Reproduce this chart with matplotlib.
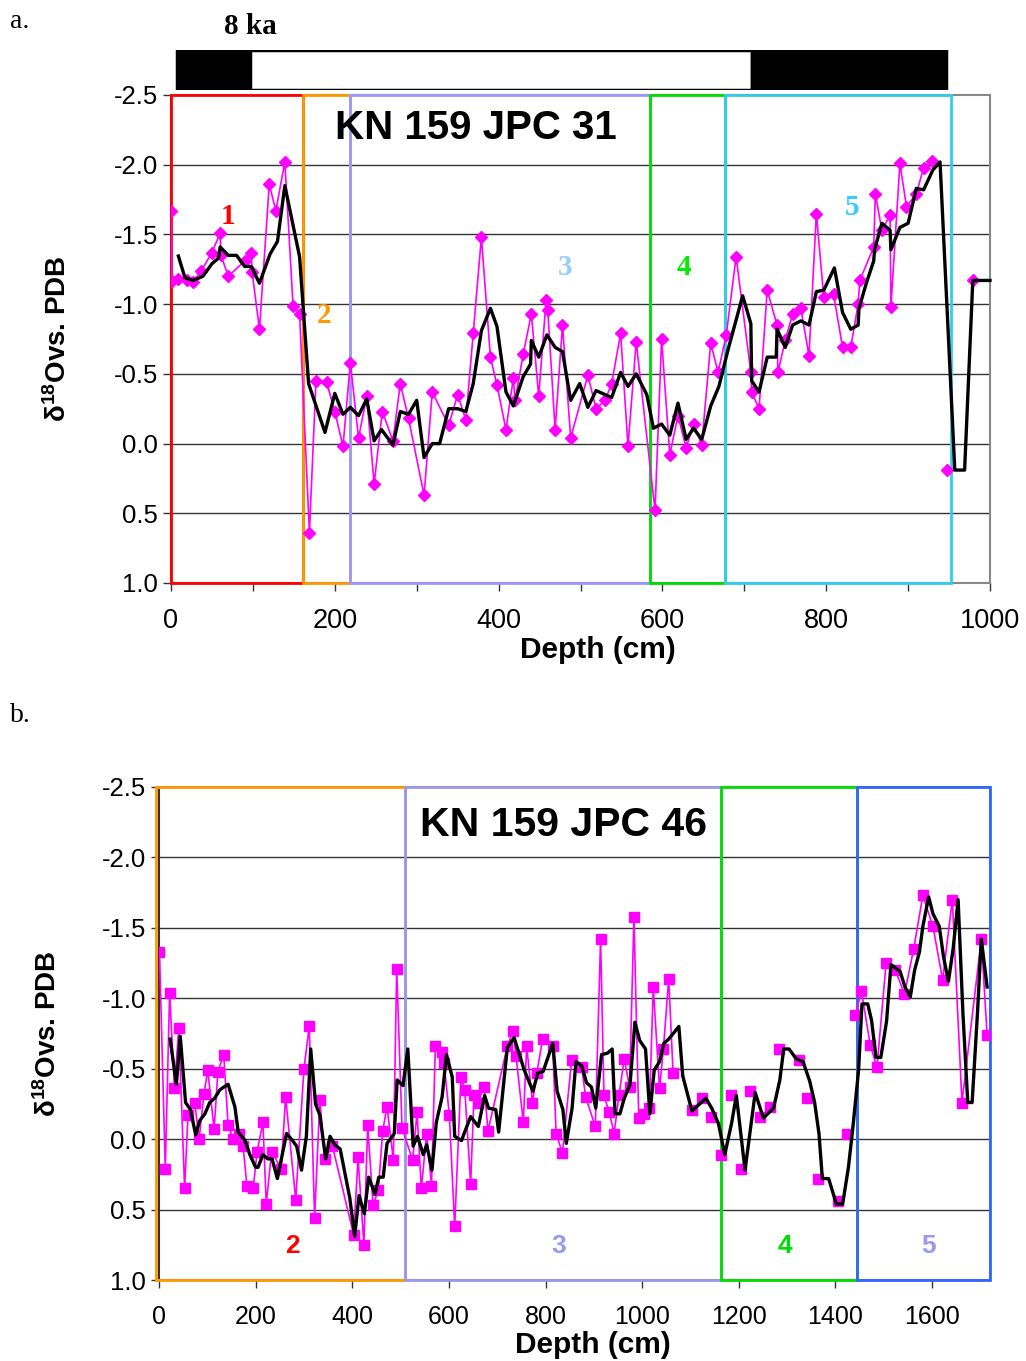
import numpy as np
import matplotlib
matplotlib.use("Agg")
import matplotlib.pyplot as plt
from matplotlib.patches import Rectangle

plt.rcParams['font.family'] = ['Liberation Sans', 'DejaVu Sans']

# -----------------------------
# Data: KN 159 JPC 31 (panel a)
# -----------------------------
a_depth = [0, 1, 9, 19, 27, 37, 50, 60, 61, 70, 90, 98, 99, 108, 120, 128, 139, 149, 157, 169,
           177, 190, 200, 210, 219, 229, 239, 248, 258, 271, 280, 290, 309, 319, 339, 350, 360,
           369, 379, 390, 398, 409, 418, 420, 430, 440, 449, 458, 460, 469, 478, 488, 509, 519,
           530, 538, 549, 558, 568, 591, 599, 609, 619, 629, 638, 648, 659, 668, 678, 690, 708,
           709, 718, 728, 740, 741, 750, 759, 769, 779, 788, 797, 809, 820, 830, 839, 841, 858,
           860, 868, 878, 879, 890, 898, 910, 919, 929]
a_d18o = [-1.67, -1.165, -1.18, -1.17, -1.16, -1.24, -1.37, -1.51, -1.35, -1.2, -1.31, -1.37, -1.23,
          -0.82, -1.86, -1.67, -2.02, -0.99, -0.93, 0.64, -0.45, -0.44, -0.23, 0.02, -0.58, -0.04,
          -0.34, 0.29, -0.23, -0.02, -0.43, -0.18, 0.37, -0.37, -0.13, -0.35, -0.17, -0.79, -1.48,
          -0.62, -0.42, -0.1, -0.47, -0.31, -0.64, -0.93, -0.34, -1.03, -0.96, -0.1, -0.85, -0.04,
          -0.49, -0.25, -0.31, -0.43, -0.79, 0.02, -0.73, 0.48, -0.75, 0.08, -0.2, 0.03, -0.14,
          0.01, -0.72, -0.51, -0.78, -1.34, -0.51, -0.37, -0.25, -1.1, -0.85, -0.51, -0.74, -0.93,
          -0.97, -0.63, -1.65, -1.05, -1.07, -0.69, -0.69, -1.0, -1.17, -1.41, -1.79, -1.53, -1.64,
          -0.98, -2.01, -1.7, -1.79, -1.98, -2.03]
# isolated samples below the gap
a_iso_depth = [947, 979]
a_iso_d18o = [0.19, -1.17]

a_smooth_depth = [9, 17, 27, 39, 50, 58, 60, 70, 80, 90, 98, 108, 121, 130, 139, 157, 168, 188, 200,
                  210, 219, 229, 239, 248, 257, 271, 280, 290, 300, 309, 319, 328, 339, 350, 360,
                  369, 379, 390, 398, 409, 418, 430, 439, 440, 449, 459, 469, 478, 488, 499, 509,
                  519, 538, 549, 558, 568, 581, 589, 599, 609, 619, 629, 638, 648, 659, 669, 680,
                  698, 708, 709, 718, 728, 739, 740, 750, 759, 769, 779, 788, 797, 810, 820, 830,
                  839, 840, 849, 858, 859, 868, 878, 879, 890, 900, 910, 919, 930, 939, 957, 969,
                  979, 1000]
a_smooth = [-1.345, -1.19, -1.17, -1.2, -1.29, -1.33, -1.41, -1.35, -1.35, -1.27, -1.27, -1.15, -1.36,
            -1.45, -1.85, -1.34, -0.43, -0.08, -0.36, -0.21, -0.26, -0.2, -0.32, -0.02, -0.1, 0.01,
            -0.23, -0.21, -0.31, 0.1, 0.0, 0.0, -0.25, -0.25, -0.23, -0.43, -0.81, -0.97, -0.84,
            -0.37, -0.27, -0.48, -0.57, -0.74, -0.62, -0.78, -0.69, -0.66, -0.31, -0.43, -0.26,
            -0.38, -0.33, -0.51, -0.41, -0.5, -0.35, -0.11, -0.14, -0.06, -0.29, -0.03, -0.11,
            -0.03, -0.27, -0.41, -0.67, -1.06, -0.86, -0.45, -0.37, -0.62, -0.62, -0.82, -0.69,
            -0.85, -0.88, -0.85, -1.09, -1.1, -1.26, -0.94, -0.82, -0.85, -0.97, -1.15, -1.31,
            -1.39, -1.58, -1.53, -1.39, -1.55, -1.58, -1.83, -1.82, -1.96, -2.02, 0.19, 0.19,
            -1.17, -1.17]

# zones: start, end, colour, label, label position
a_zone_start = [0, 161, 219, 585, 677]
a_zone_end = [161, 219, 585, 677, 952]
a_zone_color = ['#ff0000', '#ff9900', '#9999ff', '#00dd00', '#33ccee']
a_zone_label = ['1', '2', '3', '4', '5']
a_label_color = ['#ff0000', '#ff9900', '#99ccff', '#00ee00', '#33ccff']
a_label_x = [70, 187, 481, 626, 831]
a_label_y = [-1.63, -0.92, -1.26, -1.26, -1.69]

# 8 ka bar
bar_start = [7, 96, 709]
bar_end = [96, 709, 946]
bar_color = ['black', 'white', 'black']

# -----------------------------
# Data: KN 159 JPC 46 (panel b)
# -----------------------------
b_depth = [1, 13, 22, 32, 41, 53, 60, 74, 83, 93, 101, 114, 122, 134, 143, 153, 166, 174, 182, 195,
           203, 215, 222, 233, 253, 262, 283, 300, 311, 322, 333, 343, 359, 403, 412, 424, 432,
           443, 454, 463, 472, 485, 492, 503, 525, 534, 543, 554, 564, 572, 585, 590, 601, 612,
           625, 633, 645, 652, 660, 673, 681, 721, 733, 739, 754, 761, 773, 782, 794, 815, 822,
           835, 854, 875, 883, 903, 914, 921, 932, 942, 952, 963, 974, 983, 993, 1003, 1015,
           1023, 1036, 1044, 1055, 1064, 1103, 1124, 1142, 1163, 1184, 1204, 1224, 1244, 1264,
           1284, 1325, 1342, 1363, 1405, 1424, 1441, 1454, 1472, 1486, 1505, 1524, 1543, 1562,
           1581, 1602, 1622, 1642, 1662, 1702, 1714]
b_d18o = [-1.33, 0.21, -1.04, -0.36, -0.79, 0.35, -0.17, -0.26, 0.0, -0.32, -0.49, -0.07, -0.48,
          -0.6, -0.1, 0.0, -0.04, 0.05, 0.33, 0.35, 0.09, -0.12, 0.46, 0.09, 0.21, -0.3, 0.43,
          -0.5, -0.8, 0.56, -0.28, 0.14, 0.05, 0.68, 0.13, 0.75, -0.1, 0.47, 0.36, -0.06, -0.23,
          0.15, -1.21, -0.08, 0.15, -0.19, 0.35, -0.04, 0.33, -0.66, -0.62, -0.54, -0.17, 0.62,
          -0.44, -0.35, 0.32, -0.31, -0.26, -0.37, -0.06, -0.66, -0.77, -0.59, -0.12, -0.66,
          -0.26, -0.47, -0.71, -0.66, -0.04, 0.1, -0.56, -0.51, -0.3, -0.09, -1.42, -0.31, -0.19,
          -0.04, -0.31, -0.57, -0.37, -1.58, -0.15, -0.18, -0.22, -1.08, -0.36, -0.64, -1.14,
          -0.47, -0.21, -0.29, -0.16, 0.11, -0.31, 0.21, -0.34, -0.16, -0.23, -0.64, -0.56, -0.29,
          0.28, 0.44, -0.04, -0.88, -1.05, -0.67, -0.51, -1.25, -1.2, -1.03, -1.35, -1.73, -1.51,
          -1.13, -1.7, -0.26, -1.42, -0.74]
# depth interval where samples are not joined by a line
b_gap = [1080, 1435]

b_smooth_depth = [23, 36, 44, 55, 65, 76, 84, 95, 105, 115, 126, 143, 157, 164, 178, 188, 200, 205,
                  215, 225, 234, 245, 264, 274, 285, 295, 305, 314, 324, 333, 345, 354, 364, 375,
                  395, 405, 414, 425, 434, 447, 455, 464, 472, 487, 493, 505, 515, 526, 535, 547,
                  554, 565, 574, 586, 595, 607, 612, 626, 645, 661, 674, 682, 697, 703, 721, 735,
                  756, 774, 784, 795, 803, 815, 824, 836, 843, 855, 863, 875, 885, 895, 904, 916,
                  928, 938, 944, 954, 963, 975, 985, 995, 1007, 1016, 1025, 1036, 1045, 1055, 1076,
                  1084, 1103, 1132, 1144, 1158, 1171, 1185, 1195, 1213, 1234, 1251, 1272, 1285,
                  1293, 1304, 1319, 1333, 1347, 1357, 1366, 1373, 1386, 1402, 1415, 1427, 1437,
                  1448, 1455, 1467, 1475, 1484, 1494, 1506, 1515, 1534, 1544, 1555, 1564, 1574,
                  1581, 1593, 1602, 1615, 1624, 1634, 1644, 1654, 1664, 1674, 1683, 1694, 1702,
                  1714]
b_smooth = [-0.71, -0.39, -0.73, -0.26, -0.21, -0.03, -0.13, -0.18, -0.26, -0.29, -0.35, -0.39,
            -0.23, -0.05, 0.01, 0.11, 0.2, 0.2, 0.11, 0.14, 0.14, 0.28, -0.04, 0.0, 0.05, 0.22,
            -0.02, -0.64, -0.25, -0.17, 0.14, -0.02, 0.04, 0.07, 0.42, 0.69, 0.4, 0.53, 0.27,
            0.39, 0.27, 0.27, 0.03, -0.04, -0.42, -0.38, -0.64, 0.05, -0.02, 0.11, 0.04, 0.22,
            -0.12, -0.3, -0.6, -0.44, -0.02, 0.01, -0.16, -0.09, -0.31, -0.22, -0.21, -0.05,
            -0.65, -0.72, -0.49, -0.34, -0.47, -0.48, -0.56, -0.68, -0.34, -0.21, 0.03, -0.22,
            -0.55, -0.52, -0.4, -0.37, -0.22, -0.6, -0.61, -0.64, -0.18, -0.18, -0.29, -0.39,
            -0.83, -0.7, -0.64, -0.18, -0.49, -0.55, -0.68, -0.71, -0.8, -0.45, -0.2, -0.29,
            -0.22, -0.11, 0.11, -0.11, -0.31, 0.22, -0.33, -0.15, -0.22, -0.42, -0.64, -0.64,
            -0.57, -0.55, -0.41, -0.26, -0.04, 0.28, 0.28, 0.46, 0.46, 0.2, -0.11, -0.49, -0.96,
            -0.96, -0.84, -0.58, -0.58, -0.84, -1.24, -1.19, -1.08, -1.01, -1.2, -1.33, -1.51,
            -1.72, -1.6, -1.51, -1.29, -1.12, -1.36, -1.7, -0.89, -0.26, -0.26, -0.89, -1.42,
            -1.08]

b_zone_start = [-6, 509, 1163, 1445]
b_zone_end = [509, 1163, 1445, 1720]
b_zone_color = ['#ff9900', '#9999ee', '#00dd00', '#3366ff']
b_zone_label = ['2', '3', '4', '5']
b_label_color = ['#ff0000', '#9999ee', '#00dd00', '#9999ee']
b_label_x = [277, 828, 1296, 1592]
b_label_y = [0.76, 0.76, 0.76, 0.76]

yticks = [-2.5, -2.0, -1.5, -1.0, -0.5, 0.0, 0.5, 1.0]
ylabel = r'$\mathregular{\delta^{18}}$Ovs. PDB'

# -----------------------------
# Figure
# -----------------------------
fig = plt.figure(figsize=(10.26, 13.61), dpi=100)
ax_a = fig.add_axes([171 / 1026, 1 - 583 / 1361, 819 / 1026, 488 / 1361])
ax_b = fig.add_axes([159 / 1026, 1 - 1280 / 1361, 831 / 1026, 493 / 1361])
ax_bar = fig.add_axes([171 / 1026, 1 - 90 / 1361, 819 / 1026, 40 / 1361])


def style_axes(ax, xmax, xmajor, xminor, xsize):
    ax.set_xlim(0, xmax)
    ax.set_ylim(1.0, -2.5)
    ax.set_yticks(yticks)
    ax.set_yticklabels([f'{t:.1f}' for t in yticks])
    ax.set_xticks(np.arange(0, xmax + 1, xmajor))
    if xminor:
        ax.set_xticks(np.arange(0, xmax + 1, xminor), minor=True)
    ax.tick_params(axis='both', which='both', direction='out', length=6, width=1,
                   color='#333333')
    ax.tick_params(axis='y', labelsize=18.5)
    ax.tick_params(axis='x', which='major', pad=12, labelsize=xsize)
    for y in yticks[1:-1]:
        ax.axhline(y, color='#333333', lw=1.0, zorder=1)
    for s in ax.spines.values():
        s.set_color('#888888')
        s.set_linewidth(1.5)
    ax.spines['left'].set_color('#333333')
    ax.set_xlabel('Depth (cm)', fontsize=21.5, fontweight='bold')
    ax.set_ylabel(ylabel, fontsize=20, fontweight='bold')


def draw_zones(ax, starts, ends, colors):
    for s, e, c in zip(starts, ends, colors):
        ax.add_patch(Rectangle((s, 1.0), e - s, -3.5, fill=False, edgecolor=c, lw=2,
                               zorder=3, clip_on=False))


# ---- panel a ----
style_axes(ax_a, 1000, 200, 100, 19.5)
draw_zones(ax_a, a_zone_start, a_zone_end, a_zone_color)
ax_a.plot(a_depth, a_d18o, color='#ff00ff', lw=1.2, marker='D', ms=6, zorder=4)
ax_a.plot(a_iso_depth, a_iso_d18o, color='#ff00ff', ls='none', marker='D', ms=6, zorder=4)
ax_a.plot(a_smooth_depth, a_smooth, color='black', lw=2.4, zorder=5, clip_on=False)
for lab, c, x, y in zip(a_zone_label, a_label_color, a_label_x, a_label_y):
    ax_a.text(x, y, lab, color=c, fontsize=21, fontweight='bold', family='Liberation Serif',
              ha='center', va='center', zorder=6)
ax_a.text(372, -2.26, 'KN 159 JPC 31', fontsize=29, fontweight='bold', ha='center',
          va='center', zorder=6)
ax_a.xaxis.set_label_coords(0.521, -0.108)
ax_a.yaxis.set_label_coords(-0.121, 0.5)

# ---- 8 ka bar ----
ax_bar.set_xlim(0, 1000)
ax_bar.set_ylim(0, 1)
ax_bar.axis('off')
ax_bar.barh(0.5, np.subtract(bar_end, bar_start), left=bar_start, height=1.0,
            color=bar_color, edgecolor='black', linewidth=2.5)
fig.text(250 / 1026, 1 - 27 / 1361, '8 ka', fontsize=21, fontweight='bold',
         family='Liberation Serif', ha='center', va='center')
fig.text(10 / 1026, 1 - 22 / 1361, 'a.', fontsize=20, family='Liberation Serif',
         ha='left', va='center')

# ---- panel b ----
style_axes(ax_b, 1720, 200, None, 18)
draw_zones(ax_b, b_zone_start, b_zone_end, b_zone_color)
b_x = np.array(b_depth, dtype=float)
b_y = np.array(b_d18o, dtype=float)
in_gap = (b_x > b_gap[0]) & (b_x < b_gap[1])
b_line = np.where(in_gap, np.nan, b_y)
# keep the line continuous up to the gap, drop it inside
ax_b.plot(b_x, b_line, color='#ff00ff', lw=1.2, zorder=4)
ax_b.plot(b_x, b_y, color='#ff00ff', ls='none', marker='s', ms=7, zorder=4)
ax_b.plot(b_smooth_depth, b_smooth, color='black', lw=2.4, zorder=5)
for lab, c, x, y in zip(b_zone_label, b_label_color, b_label_x, b_label_y):
    ax_b.text(x, y, lab, color=c, fontsize=19, fontweight='bold', ha='center',
              va='center', zorder=6)
ax_b.text(838, -2.23, 'KN 159 JPC 46', fontsize=29.5, fontweight='bold', ha='center',
          va='center', zorder=6)
ax_b.xaxis.set_label_coords(0.522, -0.103)
ax_b.yaxis.set_label_coords(-0.117, 0.5)
fig.text(10 / 1026, 1 - 715 / 1361, 'b.', fontsize=20, family='Liberation Serif',
         ha='left', va='center')

fig.savefig('out.png', dpi=100)
